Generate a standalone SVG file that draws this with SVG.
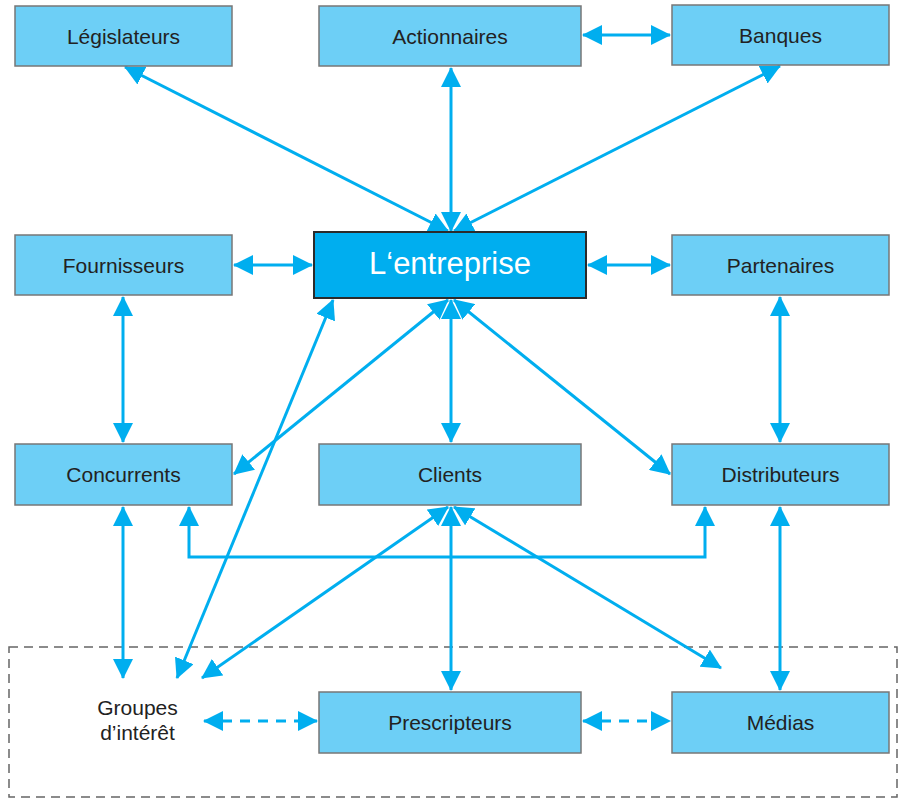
<svg xmlns="http://www.w3.org/2000/svg" width="900" height="799" viewBox="0 0 900 799">
  <defs>
    <style>
      .box { fill: #6DCFF6; stroke: #777777; stroke-width: 1.5; }
      .core { fill: #00AEEF; stroke: #2b2b2b; stroke-width: 2; }
      .lbl { font-family: "Liberation Sans", Arial, sans-serif; font-size: 21px; fill: #222222; text-anchor: middle; }
      .core-lbl { font-family: "Liberation Sans", Arial, sans-serif; font-size: 31px; fill: #ffffff; text-anchor: middle; }
      .link { fill: none; stroke: #00AEEF; stroke-width: 3; marker-start: url(#ah); marker-end: url(#ah); }
      .dash { stroke-dasharray: 10 8; }
      .zone { fill: none; stroke: #666666; stroke-width: 1.5; stroke-dasharray: 9 6; }
    </style>
    <marker id="ah" viewBox="0 0 20 20" refX="19" refY="10" markerWidth="20" markerHeight="20" markerUnits="userSpaceOnUse" orient="auto-start-reverse">
      <path d="M0,0 L20,10 L0,20 z" fill="#00AEEF"/>
    </marker>
  </defs>

  <!-- outer dashed zone around the influence actors -->
  <rect class="zone" x="9" y="647" width="888" height="150"/>

  <g id="connectors">
    <line class="link" x1="583" y1="35" x2="670" y2="35"/>
    <line class="link" x1="125" y1="67" x2="448" y2="231"/>
    <line class="link" x1="451" y1="68" x2="451" y2="231"/>
    <line class="link" x1="780" y1="66" x2="454" y2="231"/>
    <line class="link" x1="234" y1="265" x2="312" y2="265"/>
    <line class="link" x1="588" y1="265" x2="670" y2="265"/>
    <line class="link" x1="123" y1="297" x2="123" y2="442"/>
    <line class="link" x1="780" y1="297" x2="780" y2="442"/>
    <line class="link" x1="448" y1="300" x2="234" y2="474"/>
    <line class="link" x1="451" y1="300" x2="451" y2="442"/>
    <line class="link" x1="454" y1="300" x2="670" y2="474"/>
    <line class="link" x1="333" y1="300" x2="177" y2="678"/>
    <line class="link" x1="123" y1="507" x2="123" y2="678"/>
    <path class="link" d="M189,507 V557 H705 V507"/>
    <line class="link" x1="448" y1="507" x2="202" y2="678"/>
    <line class="link" x1="451" y1="507" x2="451" y2="690"/>
    <line class="link" x1="454" y1="507" x2="721" y2="668"/>
    <line class="link" x1="780" y1="507" x2="780" y2="690"/>
    <line class="link dash" x1="204" y1="721" x2="317" y2="721"/>
    <line class="link dash" x1="583" y1="721" x2="670" y2="721"/>
  </g>

  <g id="legislateurs">
    <rect class="box" x="15" y="6" width="217" height="60"/>
    <text class="lbl" x="123.5" y="43.5">Législateurs</text>
  </g>
  <g id="actionnaires">
    <rect class="box" x="319" y="6" width="262" height="60"/>
    <text class="lbl" x="450" y="43.5">Actionnaires</text>
  </g>
  <g id="banques">
    <rect class="box" x="672" y="5" width="217" height="60"/>
    <text class="lbl" x="780.5" y="42.5">Banques</text>
  </g>
  <g id="fournisseurs">
    <rect class="box" x="15" y="235" width="217" height="60"/>
    <text class="lbl" x="123.5" y="272.5">Fournisseurs</text>
  </g>
  <g id="entreprise">
    <rect class="core" x="314" y="232" width="272" height="66"/>
    <text class="core-lbl" x="450" y="274">L‘entreprise</text>
  </g>
  <g id="partenaires">
    <rect class="box" x="672" y="235" width="217" height="60"/>
    <text class="lbl" x="780.5" y="272.5">Partenaires</text>
  </g>
  <g id="concurrents">
    <rect class="box" x="15" y="444" width="217" height="61"/>
    <text class="lbl" x="123.5" y="482">Concurrents</text>
  </g>
  <g id="clients">
    <rect class="box" x="319" y="444" width="262" height="61"/>
    <text class="lbl" x="450" y="482">Clients</text>
  </g>
  <g id="distributeurs">
    <rect class="box" x="672" y="444" width="217" height="61"/>
    <text class="lbl" x="780.5" y="482">Distributeurs</text>
  </g>
  <g id="groupes">
    <text class="lbl" x="137.5" y="715">Groupes</text>
    <text class="lbl" x="137.5" y="740">d’intérêt</text>
  </g>
  <g id="prescripteurs">
    <rect class="box" x="319" y="692" width="262" height="61"/>
    <text class="lbl" x="450" y="730">Prescripteurs</text>
  </g>
  <g id="medias">
    <rect class="box" x="672" y="692" width="217" height="61"/>
    <text class="lbl" x="780.5" y="730">Médias</text>
  </g>
</svg>
